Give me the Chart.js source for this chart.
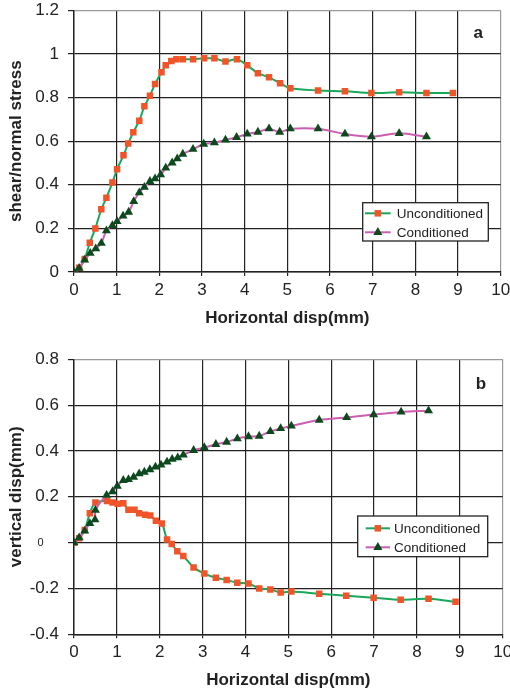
<!DOCTYPE html>
<html>
<head>
<meta charset="utf-8">
<script src="https://cdn.jsdelivr.net/npm/chart.js@4.4.1/dist/chart.umd.min.js"></script>
<style>
  body { margin: 0; background: #fff; }
  #wrap { position: relative; width: 510px; height: 695px; }
  canvas { position: absolute; left: 0; }
</style>
</head>
<body>
<div id="wrap">
  <canvas id="chartA" width="510" height="332" style="top:0"></canvas>
  <canvas id="chartB" width="510" height="363" style="top:332px"></canvas>
</div>
<script>
// x ticks shared by both panels
const xTicks = [0, 1, 2, 3, 4, 5, 6, 7, 8, 9, 10];

// panel a: shear/normal stress
const yTicksA = [0, 0.2, 0.4, 0.6, 0.8, 1, 1.2];
const xUncA = [0, 0.12, 0.25, 0.37, 0.5, 0.64, 0.76, 0.9, 1.01, 1.16, 1.27, 1.39, 1.53, 1.65, 1.78, 1.9, 2.05, 2.15, 2.28, 2.4, 2.55, 2.79, 3.05, 3.29, 3.55, 3.82, 4.06, 4.31, 4.57, 4.83, 5.07, 5.72, 6.35, 6.97, 7.62, 8.26, 8.88];
const yUncA = [0, 0.02, 0.06, 0.134, 0.2, 0.288, 0.341, 0.41, 0.471, 0.535, 0.589, 0.641, 0.694, 0.76, 0.809, 0.862, 0.916, 0.948, 0.968, 0.976, 0.976, 0.976, 0.98, 0.98, 0.966, 0.976, 0.948, 0.912, 0.893, 0.866, 0.843, 0.833, 0.829, 0.821, 0.824, 0.821, 0.821];
const xConA = [0, 0.12, 0.25, 0.38, 0.51, 0.64, 0.76, 0.9, 1.01, 1.15, 1.28, 1.4, 1.53, 1.65, 1.78, 1.9, 2.03, 2.15, 2.3, 2.42, 2.55, 2.79, 3.04, 3.29, 3.55, 3.81, 4.06, 4.31, 4.57, 4.82, 5.07, 5.72, 6.35, 6.97, 7.62, 8.26];
const yConA = [0, 0.018, 0.055, 0.086, 0.107, 0.132, 0.19, 0.214, 0.232, 0.257, 0.275, 0.324, 0.364, 0.389, 0.416, 0.428, 0.446, 0.477, 0.501, 0.52, 0.541, 0.563, 0.587, 0.593, 0.606, 0.618, 0.633, 0.642, 0.657, 0.642, 0.657, 0.657, 0.633, 0.621, 0.636, 0.621];

// panel b: vertical disp
const yTicksB = [-0.4, -0.2, 0, 0.2, 0.4, 0.6, 0.8];
const xUncB = [0, 0.12, 0.25, 0.37, 0.5, 0.77, 0.9, 1.02, 1.15, 1.27, 1.41, 1.52, 1.66, 1.78, 1.91, 2.05, 2.17, 2.28, 2.41, 2.55, 2.79, 3.04, 3.31, 3.56, 3.81, 4.07, 4.32, 4.58, 4.82, 5.07, 5.72, 6.35, 6.99, 7.62, 8.27, 8.9];
const yUncB = [0, 0.019, 0.055, 0.128, 0.175, 0.182, 0.175, 0.17, 0.172, 0.144, 0.144, 0.128, 0.122, 0.118, 0.096, 0.084, 0.014, -0.006, -0.038, -0.058, -0.108, -0.135, -0.153, -0.163, -0.175, -0.178, -0.2, -0.204, -0.218, -0.213, -0.223, -0.232, -0.24, -0.249, -0.245, -0.258];
const xConB = [0, 0.12, 0.25, 0.37, 0.49, 0.5, 0.76, 0.9, 1.01, 1.15, 1.27, 1.39, 1.52, 1.64, 1.77, 1.9, 2.03, 2.17, 2.29, 2.42, 2.55, 2.79, 3.04, 3.31, 3.56, 3.81, 4.07, 4.32, 4.58, 4.82, 5.07, 5.72, 6.36, 6.99, 7.63, 8.27];
const yConB = [0, 0.022, 0.051, 0.084, 0.1, 0.142, 0.207, 0.223, 0.247, 0.272, 0.276, 0.286, 0.301, 0.308, 0.319, 0.33, 0.339, 0.352, 0.364, 0.371, 0.383, 0.403, 0.415, 0.429, 0.439, 0.454, 0.463, 0.465, 0.485, 0.498, 0.509, 0.535, 0.546, 0.559, 0.57, 0.576];

const FONT = '"Liberation Sans", Arial, Helvetica, sans-serif';
Chart.defaults.font.family = FONT;
Chart.defaults.color = '#222';

function pts(xs, ys) {
  return xs.map((x, i) => ({ x: x, y: ys[i] }));
}

// legend box + panel letter drawn inside the plot
const overlay = {
  id: 'overlay',
  afterDraw(chart, args, o) {
    const { ctx, chartArea: a } = chart;
    ctx.save();
    ctx.font = 'bold 17px ' + FONT;
    ctx.fillStyle = '#222';
    ctx.textAlign = 'center';
    ctx.textBaseline = 'middle';
    ctx.fillText(o.letter, a.right - o.letterDx, a.top + o.letterDy);

    const bx = a.right - o.boxRight - o.boxW;
    const by = a.top + o.boxTop;
    ctx.fillStyle = '#fff';
    ctx.fillRect(bx, by, o.boxW, o.boxH);
    ctx.strokeStyle = '#222';
    ctx.lineWidth = 1.3;
    ctx.strokeRect(bx, by, o.boxW, o.boxH);

    ctx.font = '13.5px ' + FONT;
    ctx.textAlign = 'left';
    chart.data.datasets.forEach((ds, i) => {
      const y = by + o.row0 + i * 19;
      ctx.strokeStyle = ds.borderColor;
      ctx.lineWidth = 2;
      ctx.beginPath();
      ctx.moveTo(bx + o.lineX0, y);
      ctx.lineTo(bx + o.lineX1, y);
      ctx.stroke();
      ctx.fillStyle = ds.pointBackgroundColor;
      Chart.helpers.drawPoint(ctx, { pointStyle: ds.pointStyle, radius: ds.pointRadius, borderWidth: 0, rotation: 0 },
        bx + (o.lineX0 + o.lineX1) / 2, y);
      ctx.fillStyle = '#222';
      ctx.fillText(ds.label, bx + o.textX, y + 1);
    });
    ctx.restore();
  }
};

function makeChart(id, cfg) {
  const gridCol = (last) => (c) => (c.index === last ? '#999' : '#222');
  return new Chart(document.getElementById(id), {
    type: 'line',
    data: {
      datasets: [
        {
          label: 'Unconditioned',
          data: pts(cfg.xu, cfg.yu),
          borderColor: '#17a85a',
          borderWidth: 2,
          pointStyle: 'rect',
          pointRadius: 4.6,
          pointBackgroundColor: '#f2542a',
          pointBorderWidth: 0,
          tension: 0.3,
          order: 2
        },
        {
          label: 'Conditioned',
          data: pts(cfg.xc, cfg.yc),
          borderColor: '#cc5eb2',
          borderWidth: 2,
          pointStyle: 'triangle',
          pointRadius: 5.2,
          pointBackgroundColor: '#0c4a1e',
          pointBorderWidth: 0,
          tension: 0.3,
          order: 1
        }
      ]
    },
    options: {
      responsive: false,
      animation: false,
      layout: { padding: { top: cfg.padTop, right: 0, left: 0, bottom: 0 } },
      plugins: {
        legend: { display: false },
        tooltip: { enabled: false },
        overlay: cfg.overlay
      },
      scales: {
        x: {
          type: 'linear',
          min: 0, max: 10,
          afterBuildTicks: (s) => { s.ticks = xTicks.map(v => ({ value: v })); },
          afterFit: (s) => { s.height = cfg.xHeight; s.paddingRight = cfg.padRight; s.paddingLeft = 0; },
          ticks: { font: { size: 17 }, color: '#222', padding: 4, maxRotation: 0, callback: (v) => String(v) },
          grid: { color: gridCol(10), lineWidth: 1.2, tickLength: 4, tickColor: '#222' },
          border: { color: '#222', width: 1.4 },
          title: { display: true, text: 'Horizontal disp(mm)', font: { size: 17, weight: 'bold' }, padding: { top: 0, bottom: cfg.xTitlePad } }
        },
        y: {
          type: 'linear',
          min: cfg.yTicks[0], max: cfg.yTicks[cfg.yTicks.length - 1],
          afterBuildTicks: (s) => { s.ticks = cfg.yTicks.map(v => ({ value: v })); },
          afterFit: (s) => { s.width = 74; s.paddingTop = 0; s.paddingBottom = 0; },
          ticks: {
            font: (c) => ({ size: (cfg.smallZero && c.tick && c.tick.value === 0) ? 11 : 17 }),
            color: '#222',
            padding: 9,
            callback: (v) => (cfg.smallZero && v === 0) ? '0     ' : String(v)
          },
          grid: { color: gridCol(cfg.yTicks.length - 1), lineWidth: 1.2, tickLength: 6, tickColor: '#222' },
          border: { color: '#222', width: 1.4 },
          title: { display: true, text: cfg.yTitle, font: { size: 17, weight: 'bold' }, padding: { top: 6, bottom: 0 } }
        }
      }
    },
    plugins: [overlay]
  });
}

makeChart('chartA', {
  xu: xUncA, yu: yUncA, xc: xConA, yc: yConA,
  yTicks: yTicksA, yTitle: 'shear/normal stress',
  padTop: 10.4, padRight: 9.3, xHeight: 60, xTitlePad: 3,
  smallZero: false,
  overlay: { letter: 'a', letterDx: 22.4, letterDy: 23,
    boxRight: 12.4, boxTop: 192.3, boxW: 125.6, boxH: 38.3,
    row0: 10.6, lineX0: 2.3, lineX1: 28, textX: 34 }
});

makeChart('chartB', {
  xu: xUncB, yu: yUncB, xc: xConB, yc: yConB,
  yTicks: yTicksB, yTitle: 'vertical disp(mm)',
  padTop: 27.3, padRight: 7.3, xHeight: 60.7, xTitlePad: 4.8,
  smallZero: true,
  overlay: { letter: 'b', letterDx: 21.7, letterDy: 24.7,
    boxRight: 15, boxTop: 156.7, boxW: 130, boxH: 40.7,
    row0: 12.3, lineX0: 8, lineX1: 32.3, textX: 36.3 }
});
</script>
</body>
</html>
